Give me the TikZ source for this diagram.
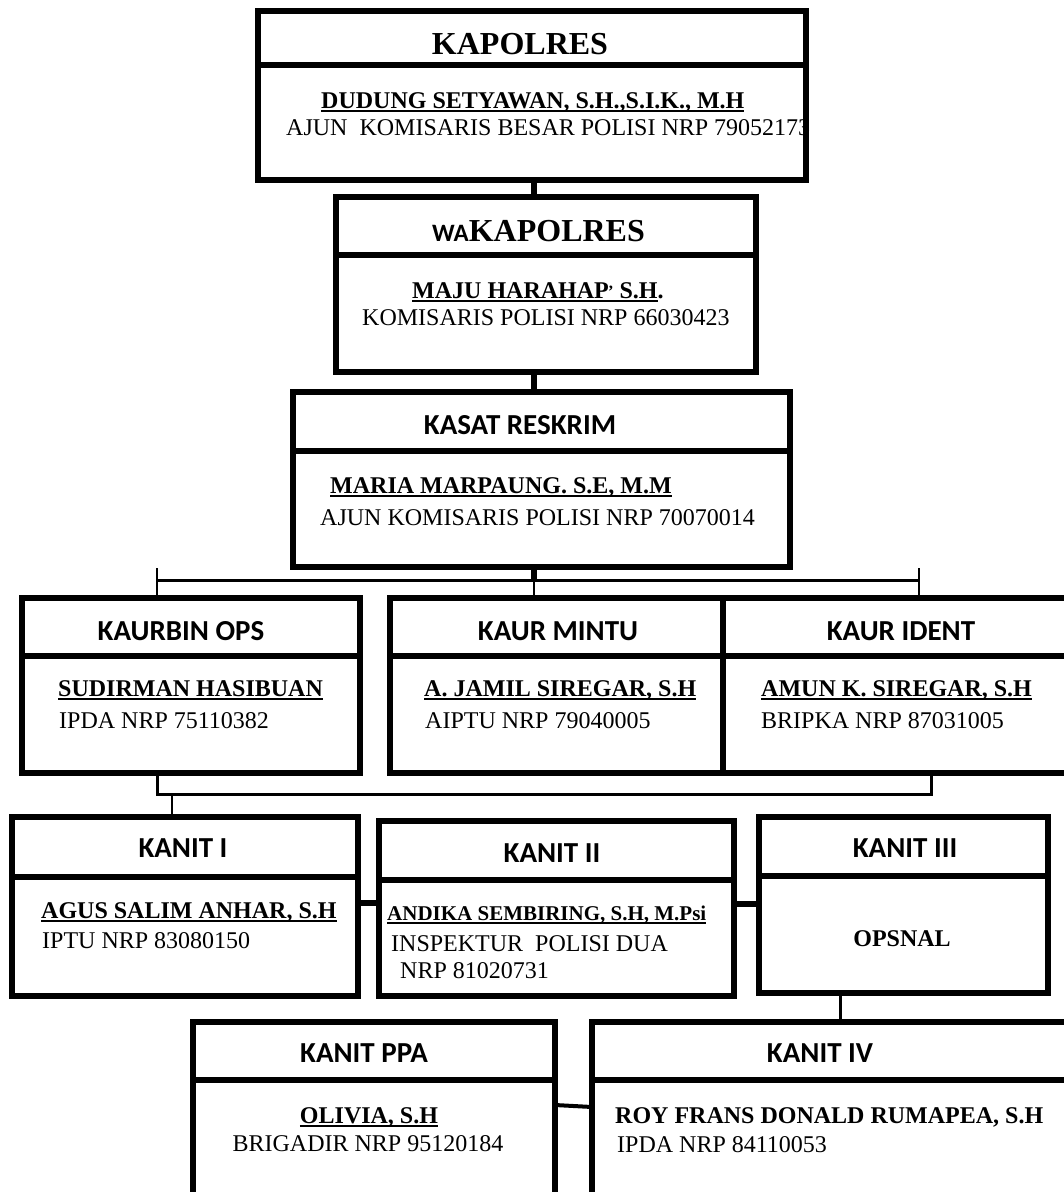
\documentclass[tikz,border=0pt]{standalone}
\usepackage{fontspec}
\setmainfont{Liberation Serif}
\newfontfamily\hsans{Carlito}
\newcommand\uln[1]{\setbox0\hbox{#1}\rlap{\rule[-4pt]{\wd0}{2.2pt}}\box0}
\newcommand\orgbox[6]{%
 \node[boxpart,anchor=north west,minimum width={#4-#2},minimum height={#5-#3}] (#1-h) at (#2,#3) {};
 \node[boxpart,anchor=north west,minimum width={#4-#2},minimum height={#6-#5}] (#1-b) at (#2,#5) {};}
\tikzset{
 boxpart/.style={draw, line width=6pt, fill=white, inner sep=0pt, outer sep=0pt, rectangle},
 txt/.style={inner sep=0pt, anchor=base west, font=\fontsize{24}{28}\selectfont},
 nm/.style={inner sep=0pt, anchor=base west, font=\fontsize{24}{28}\selectfont\bfseries},
 hd/.style={inner sep=0pt, anchor=base, font=\hsans\bfseries\fontsize{29}{34}\selectfont},
 thickc/.style={line width=5.5pt},
 thinc/.style={line width=2.2pt},
 midc/.style={line width=3pt},
}
\begin{document}
\begin{tikzpicture}[x=1pt,y=-1pt]
\useasboundingbox (0,0) rectangle (1064,1192);
\clip (0,0) rectangle (1064,1192);
\fill[white] (0,0) rectangle (1064,1192);
% boxes
\orgbox{kap}{258}{11}{806}{65}{180}
\orgbox{wak}{336}{197}{756}{255}{372}
\orgbox{kas}{293}{392}{790}{451}{567}
\orgbox{kaurbin}{22}{598}{360}{656}{773}
\orgbox{mintu}{390}{598}{723}{656}{773}
\orgbox{ident}{723}{598}{1090}{656}{773}
\orgbox{kanitA}{12}{817}{358}{877}{996}
\orgbox{kanitB}{379}{821}{734}{880}{996}
\orgbox{kanitC}{759}{817}{1048}{876}{993}
\orgbox{ppa}{193}{1022}{555}{1080}{1220}
\orgbox{kanitD}{592}{1022}{1090}{1080}{1220}
% coordinates
\coordinate (spine) at (534,0);
\coordinate (hM) at (534,580);
\coordinate (hL) at (157,580);
\coordinate (hR) at (919,580);
\coordinate (tL) at (157,568);
\coordinate (tR) at (919,568);
\coordinate (bL) at (157,794);
\coordinate (bR) at (931,794);
\coordinate (bK) at (172,794);
\coordinate (r3) at (0,903);
\coordinate (r3b) at (0,904);
\coordinate (c4) at (840,0);
\coordinate (p1) at (0,1105);
\coordinate (p2) at (0,1107);
% connectors
\draw[thickc] (kap-b.south -| spine) -- (wak-h.north -| spine);
\draw[thickc] (wak-b.south -| spine) -- (kas-h.north -| spine);
\draw[thickc] (kas-b.south -| spine) -- (hM);
\draw[thinc] (hM) -- (mintu-h.north -| hM);
\draw[midc] (hL) -- (hR);
\draw[thinc] (tL) -- (kaurbin-h.north -| tL);
\draw[thinc] (tR) -- (ident-h.north -| tR);
\draw[midc] (kaurbin-b.south -| bL) -- (bL) -- (bR) -- (ident-b.south -| bR);
\draw[thinc] (bK) -- (kanitA-h.north -| bK);
\draw[thickc] (kanitA-b.east |- r3) -- (kanitB-b.west |- r3);
\draw[thickc] (kanitB-b.east |- r3b) -- (kanitC-b.west |- r3b);
\draw[midc] (kanitC-b.south -| c4) -- (kanitD-h.north -| c4);
\draw[line width=4pt] (ppa-b.east |- p1) -- (kanitD-b.west |- p2);
% texts
\node[inner sep=0pt, anchor=base, font=\bfseries\fontsize{32}{36}\selectfont] (t-kap) at (520,54) {KAPOLRES};
\node[nm] (t-kap1) at (321,108) {\uln{DUDUNG SETYAWAN, S.H.,S.I.K., M.H}};
\node[txt] (t-kap2) at (286,135) {AJUN\ \ KOMISARIS BESAR POLISI NRP 79052173};
\node[inner sep=0pt, anchor=base west] (t-wak) at (432,241) {{\hsans\bfseries\fontsize{25}{30}\selectfont WA}{\bfseries\fontsize{32}{36}\selectfont KAPOLRES}};
\node[nm] (t-wak1) at (412,298) {\uln{MAJU HARAHAP\textsuperscript{,} S.H}.};
\node[txt] (t-wak2) at (362,325) {KOMISARIS POLISI NRP 66030423};
\node[hd] (t-kas) at (520,434) {KASAT RESKRIM};
\node[nm] (t-kas1) at (330,493) {\uln{MARIA MARPAUNG. S.E, M.M}};
\node[txt] (t-kas2) at (320,525) {AJUN KOMISARIS POLISI NRP 70070014};
\node[hd] (t-kb) at (181,640) {KAURBIN OPS};
\node[nm] (t-kb1) at (58,696) {\uln{SUDIRMAN HASIBUAN}};
\node[txt] (t-kb2) at (59,728) {IPDA NRP 75110382};
\node[hd] (t-mi) at (558,640) {KAUR MINTU};
\node[nm] (t-mi1) at (424,696) {\uln{A. JAMIL SIREGAR, S.H}};
\node[txt] (t-mi2) at (425,728) {AIPTU NRP 79040005};
\node[hd] (t-id) at (901,640) {KAUR IDENT};
\node[nm] (t-id1) at (761,696) {\uln{AMUN K. SIREGAR, S.H}};
\node[txt] (t-id2) at (761,728) {BRIPKA NRP 87031005};
\node[hd] (t-k1) at (183,857) {KANIT I};
\node[nm] (t-k11) at (41,918) {\uln{AGUS SALIM ANHAR, S.H}};
\node[txt] (t-k12) at (42,948) {IPTU NRP 83080150};
\node[hd] (t-k2) at (552,862) {KANIT II};
\node[nm, font=\fontsize{21}{25}\selectfont\bfseries] (t-k21) at (387,920) {\uln{ANDIKA SEMBIRING, S.H, M.Psi}};
\node[txt] (t-k22) at (391,951) {INSPEKTUR\ \ POLISI DUA};
\node[txt] (t-k23) at (400,978) {NRP 81020731};
\node[hd] (t-k3) at (905,857) {KANIT III};
\node[nm, anchor=base] (t-k31) at (902,946) {OPSNAL};
\node[hd] (t-pp) at (364,1062) {KANIT PPA};
\node[nm, anchor=base] (t-pp1) at (369,1123) {\uln{OLIVIA, S.H}};
\node[txt, anchor=base] (t-pp2) at (368,1151) {BRIGADIR NRP 95120184};
\node[hd] (t-k4) at (820,1062) {KANIT IV};
\node[nm] (t-k41) at (615,1123) {ROY FRANS DONALD RUMAPEA, S.H};
\node[txt] (t-k42) at (617,1152) {IPDA NRP 84110053};
\end{tikzpicture}
\end{document}
